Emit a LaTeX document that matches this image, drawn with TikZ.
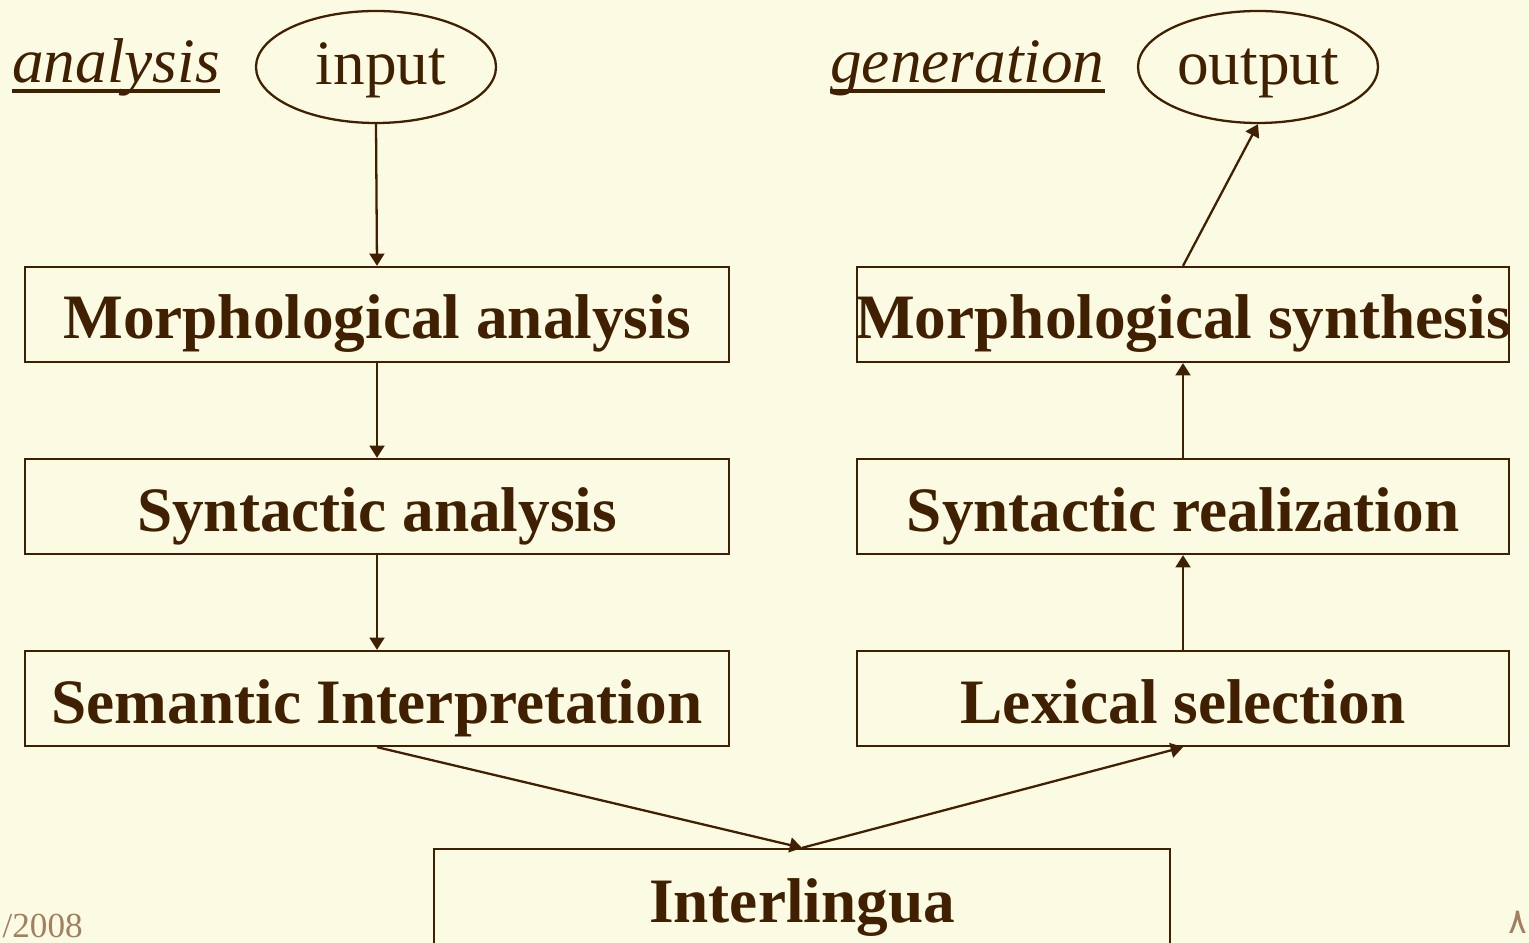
\documentclass[tikz,border=0pt]{standalone}
\usepackage{fontspec}
\setmainfont{Liberation Serif}
\newfontfamily\arabicfont[Script=Arabic]{DejaVu Sans}
\usetikzlibrary{arrows.meta, shapes.geometric}
\definecolor{slidebg}{RGB}{251,251,228}
\definecolor{ink}{RGB}{64,32,0}
\definecolor{footnote}{RGB}{160,128,96}

\begin{document}
\begin{tikzpicture}[
        stage/.style={draw=ink, line width=1.3pt, text=ink, inner sep=0pt,
            minimum height=1.9cm, text height=1.06cm, text depth=0.08cm,
            font=\fontsize{36}{40}\selectfont\bfseries},
        io/.style={ellipse, draw=ink, line width=1.3pt, text=ink, inner sep=0pt,
            minimum width=4.8cm, minimum height=2.24cm, text height=0.8cm, text depth=0.08cm,
            font=\fontsize{36}{40}\selectfont},
        side_label/.style={text=ink, inner sep=0pt, font=\fontsize{36}{40}\selectfont\itshape},
        underline/.style={draw=ink, line width=2.3pt},
        foot/.style={text=footnote, inner sep=0pt, font=\fontsize{20}{24}\selectfont},
        flow/.style={draw=ink, line width=1.3pt, -{Triangle[length=7pt,width=8.5pt]}}
    ]
    % Sfondo e ritaglio
    \path[use as bounding box, fill=slidebg] (0,0) rectangle (30.58,-18.86);
    \clip (0,0) rectangle (30.58,-18.86);

    % Analisi
    \node[side_label, anchor=base west] (ana) at (0.24,-1.66) {analysis};
    \draw[underline] ([yshift=-4.4pt]ana.base west) -- ([yshift=-4.4pt]ana.base east);
    \node[io] (input) at (7.52,-1.34) {\hspace{0.2cm}input};
    \node[stage, minimum width=14.08cm] (morphA) at (7.54,-6.29) {Morphological analysis};
    \node[stage, minimum width=14.08cm] (synA) at (7.54,-10.13) {Syntactic analysis};
    \node[stage, minimum width=14.08cm] (semA) at (7.54,-13.97) {Semantic Interpretation};

    % Generazione
    \node[side_label, anchor=base west] (gen) at (16.6,-1.66) {generation};
    \draw[underline] ([yshift=-4.4pt]gen.base west) -- ([yshift=-4.4pt]gen.base east);
    \node[io] (output) at (25.16,-1.34) {output};
    \node[stage, minimum width=13.04cm] (morphS) at (23.66,-6.29) {\makebox[12cm]{Morphological synthesis}};
    \node[stage, minimum width=13.04cm] (synS) at (23.66,-10.13) {Syntactic realization};
    \node[stage, minimum width=13.04cm] (lexS) at (23.66,-13.97) {Lexical selection};

    % Interlingua
    \node[stage, minimum width=14.72cm, minimum height=2.3cm, text height=0.7cm] (inter) at (16.04,-18.13) {Interlingua};

    % Frecce
    \draw[flow] (input.south) -- (morphA.north);
    \draw[flow] (morphA.south) -- (synA.north);
    \draw[flow] (synA.south) -- (semA.north);
    \draw[flow] (semA.south) -- (inter.north);
    \draw[flow] (inter.north) -- (lexS.south);
    \draw[flow] (lexS.north) -- (synS.south);
    \draw[flow] (synS.north) -- (morphS.south);
    \draw[flow] (morphS.north) -- (output.south);

    % Piè di pagina
    \node[foot, anchor=base east] (date) at (1.66,-18.74) {/2008};
    \node[foot, anchor=base west] (page) at (30.16,-18.66) {\arabicfont ٨};
\end{tikzpicture}
\end{document}
